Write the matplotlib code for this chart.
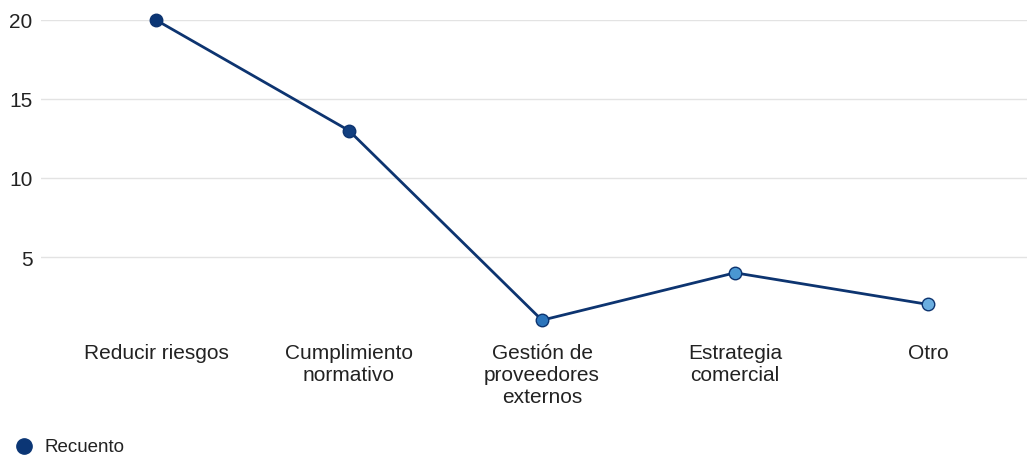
import matplotlib
matplotlib.use("Agg")
import matplotlib.pyplot as plt
from matplotlib.lines import Line2D

categories = ["Reducir riesgos", "Cumplimiento\nnormativo", "Gestión de\nproveedores\nexternos",
              "Estrategia\ncomercial", "Otro"]
values = [20, 13, 1, 4, 2]
marker_colors = ["#0b3675", "#123f80", "#2b74bb", "#4a97d2", "#6aaee0"]
yticks = [5, 10, 15, 20]
series_name = "Recuento"

plt.rcParams['font.family'] = ['Liberation Sans', 'DejaVu Sans']

fig = plt.figure(figsize=(10.27, 4.56), dpi=100)
ax = fig.add_axes([41/1027, 1 - 337/456, 1 - 41/1027, (337 - 21)/456])

x = list(range(len(categories)))
line_color = "#0d3470"
ax.plot(x, values, color=line_color, lw=2.0, zorder=3, clip_on=False)
for xi, v, c in zip(x, values, marker_colors):
    ax.plot([xi], [v], marker="o", ms=9, mfc=c, mec="#0d3470", mew=1.0,
            zorder=4, clip_on=False, ls="none")

ax.set_xlim((41 - 156) / 193.0, (1027 - 156) / 193.0)
ax.set_ylim(0, 20)
ax.set_yticks(yticks)
ax.set_yticklabels([str(t) for t in yticks], fontsize=15, color="#222222")
ax.set_xticks(x)
ax.set_xticklabels(categories, fontsize=15, color="#222222", linespacing=1.2)
ax.tick_params(axis="both", length=0)
ax.tick_params(axis="y", pad=6)
ax.tick_params(axis="x", pad=5)
ax.grid(axis="y", color="#e3e3e3", lw=1.0)
ax.set_axisbelow(True)
for s in ax.spines.values():
    s.set_visible(False)

# legend (placed manually)
W, H = 1027.0, 456.0
fig.add_artist(Line2D([24 / W], [1 - 447 / H], marker="o", ls="none", ms=11,
                      mfc="#0b3675", mec="#0b3675", transform=fig.transFigure))
fig.text(44 / W, 1 - 448 / H, series_name, fontsize=13.5, color="#222222",
         ha="left", va="center")

fig.savefig("out.png", dpi=100)
